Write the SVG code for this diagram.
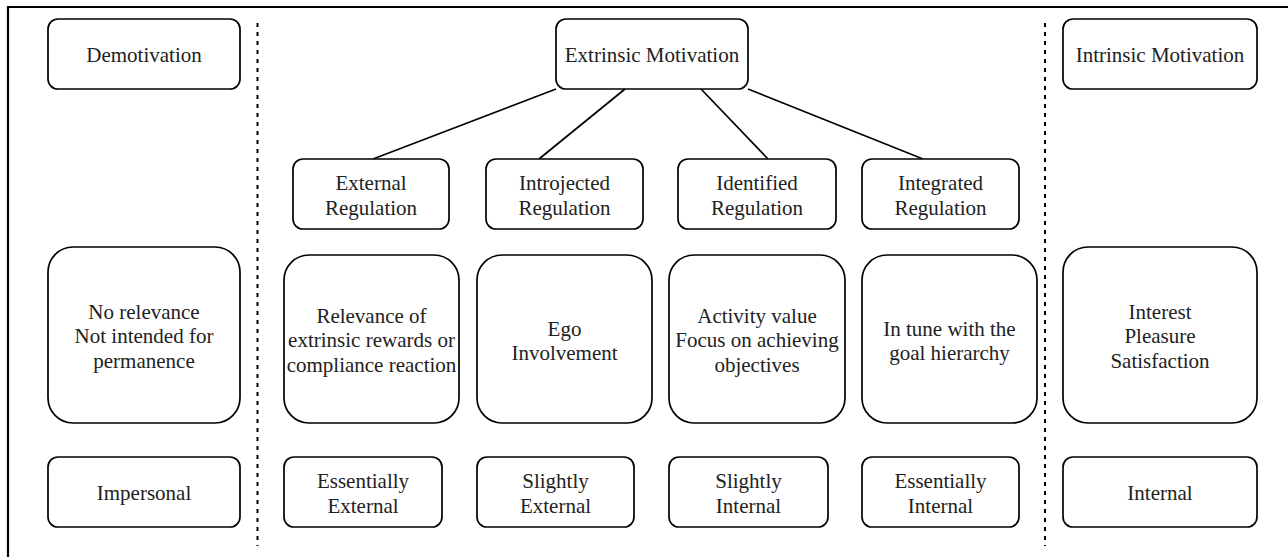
<svg xmlns="http://www.w3.org/2000/svg" width="1288" height="557" viewBox="0 0 1288 557">
<style>
.b{fill:#fff;stroke:#000;stroke-width:1.7}
.t{font-family:'Liberation Serif','Times New Roman',serif;font-size:21px;fill:#222;text-anchor:middle}
.c{stroke:#000;stroke-width:1.7;fill:none}
.d{stroke:#000;stroke-width:2;stroke-dasharray:4 5;fill:none}
</style>
<rect width="1288" height="557" fill="#fff"/>
<g id="frame">
<line x1="8" y1="7" x2="1288" y2="7" stroke="#000" stroke-width="2.2"/>
<line x1="8" y1="6" x2="8" y2="557" stroke="#000" stroke-width="2.2"/>
</g>
<g id="separators">
<line class="d" x1="257.5" y1="23" x2="257.5" y2="546"/>
<line class="d" x1="1045" y1="23" x2="1045" y2="546"/>
</g>
<g id="connectors">
<line class="c" x1="556" y1="89" x2="373" y2="159"/>
<line class="c" x1="625" y1="89" x2="539" y2="159"/>
<line class="c" x1="701" y1="89" x2="768" y2="159"/>
<line class="c" x1="748" y1="89" x2="923" y2="159"/>
</g>
<g id="demotivation"><rect class="b" x="48" y="19" width="192" height="70" rx="10"/><text class="t" x="144" y="62">Demotivation</text></g>
<g id="extrinsic"><rect class="b" x="556" y="19" width="192" height="70" rx="10"/><text class="t" x="652" y="62">Extrinsic Motivation</text></g>
<g id="intrinsic"><rect class="b" x="1063" y="19" width="194" height="70" rx="10"/><text class="t" x="1160" y="62">Intrinsic Motivation</text></g>

<g id="external-reg"><rect class="b" x="293" y="159" width="156" height="70" rx="10"/><text class="t" x="371" y="190">External</text><text class="t" x="371" y="214.5">Regulation</text></g>
<g id="introjected-reg"><rect class="b" x="486" y="159" width="157" height="70" rx="10"/><text class="t" x="564.5" y="190">Introjected</text><text class="t" x="564.5" y="214.5">Regulation</text></g>
<g id="identified-reg"><rect class="b" x="678" y="159" width="158" height="70" rx="10"/><text class="t" x="757" y="190">Identified</text><text class="t" x="757" y="214.5">Regulation</text></g>
<g id="integrated-reg"><rect class="b" x="862" y="159" width="157" height="70" rx="10"/><text class="t" x="940.5" y="190">Integrated</text><text class="t" x="940.5" y="214.5">Regulation</text></g>

<g id="no-relevance"><rect class="b" x="48" y="247" width="192" height="176" rx="25"/><text class="t" x="144" y="318.5">No relevance</text><text class="t" x="144" y="343">Not intended for</text><text class="t" x="144" y="367.5">permanence</text></g>
<g id="relevance"><rect class="b" x="284" y="255" width="175" height="168" rx="25"/><text class="t" x="371.5" y="322.5">Relevance of</text><text class="t" x="371.5" y="347">extrinsic rewards or</text><text class="t" x="371.5" y="371.5">compliance reaction</text></g>
<g id="ego"><rect class="b" x="477" y="255" width="175" height="168" rx="25"/><text class="t" x="564.5" y="335.5">Ego</text><text class="t" x="564.5" y="360">Involvement</text></g>
<g id="activity"><rect class="b" x="669" y="255" width="176" height="168" rx="25"/><text class="t" x="757" y="322.5">Activity value</text><text class="t" x="757" y="347">Focus on achieving</text><text class="t" x="757" y="371.5">objectives</text></g>
<g id="in-tune"><rect class="b" x="862" y="255" width="175" height="168" rx="25"/><text class="t" x="949.5" y="335.5">In tune with the</text><text class="t" x="949.5" y="360">goal hierarchy</text></g>
<g id="interest"><rect class="b" x="1063" y="247" width="194" height="176" rx="25"/><text class="t" x="1160" y="318.5">Interest</text><text class="t" x="1160" y="343">Pleasure</text><text class="t" x="1160" y="367.5">Satisfaction</text></g>

<g id="impersonal"><rect class="b" x="48" y="457" width="192" height="70" rx="10"/><text class="t" x="144" y="500">Impersonal</text></g>
<g id="ess-external"><rect class="b" x="284" y="457" width="158" height="70" rx="10"/><text class="t" x="363" y="488">Essentially</text><text class="t" x="363" y="512.5">External</text></g>
<g id="sl-external"><rect class="b" x="477" y="457" width="157" height="70" rx="10"/><text class="t" x="555.5" y="488">Slightly</text><text class="t" x="555.5" y="512.5">External</text></g>
<g id="sl-internal"><rect class="b" x="669" y="457" width="159" height="70" rx="10"/><text class="t" x="748.5" y="488">Slightly</text><text class="t" x="748.5" y="512.5">Internal</text></g>
<g id="ess-internal"><rect class="b" x="862" y="457" width="157" height="70" rx="10"/><text class="t" x="940.5" y="488">Essentially</text><text class="t" x="940.5" y="512.5">Internal</text></g>
<g id="internal"><rect class="b" x="1063" y="457" width="194" height="70" rx="10"/><text class="t" x="1160" y="500">Internal</text></g>
</svg>
